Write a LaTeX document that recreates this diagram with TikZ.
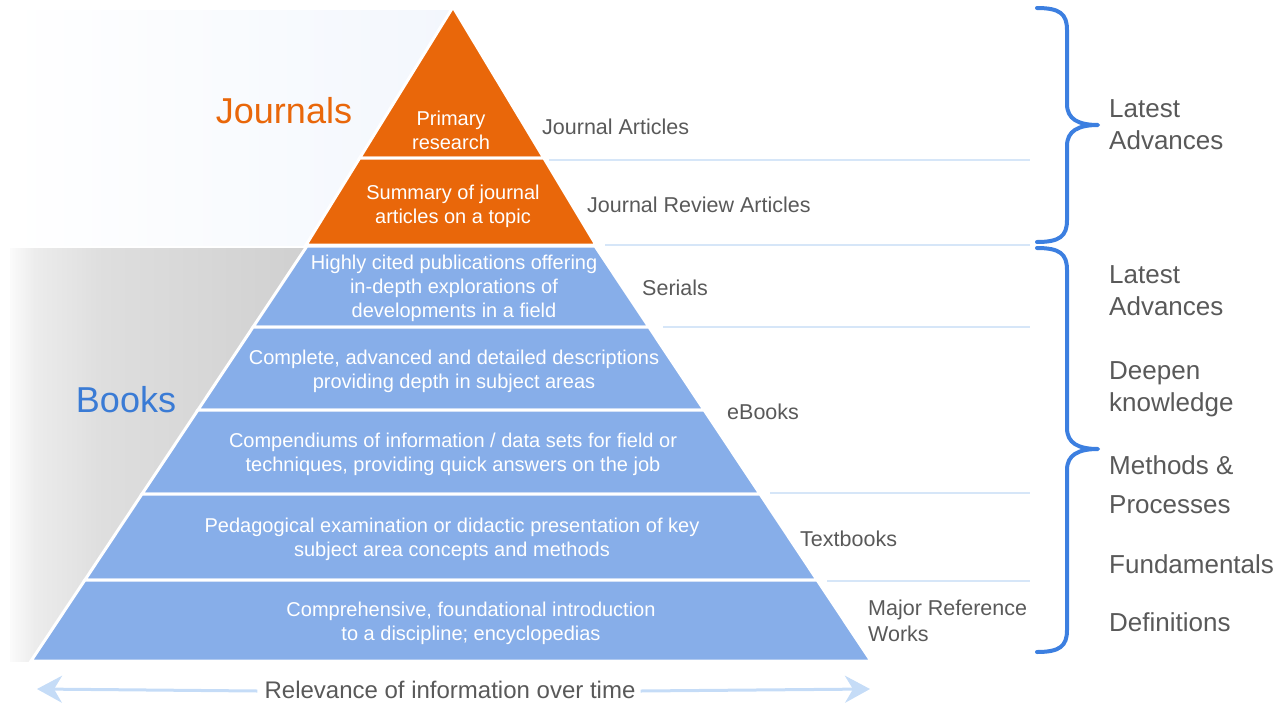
\documentclass[tikz,border=0pt]{standalone}
\usepackage{fontspec}
\setmainfont{Liberation Sans}
\usetikzlibrary{arrows.meta}
\definecolor{jorange}{RGB}{233,103,10}
\definecolor{bblue}{RGB}{135,174,233}
\definecolor{booksblue}{RGB}{58,123,213}
\definecolor{bracecol}{RGB}{60,127,224}
\definecolor{sepcol}{RGB}{214,230,248}
\definecolor{arrowcol}{RGB}{197,220,247}
\definecolor{txtgray}{RGB}{89,89,89}
\definecolor{grayA}{RGB}{236,236,236}
\definecolor{grayB}{RGB}{222,222,222}
\definecolor{grayC}{RGB}{207,207,207}
\definecolor{bluebg}{RGB}{243,247,253}
\pgfdeclarehorizontalshading{booksbg}{100bp}{color(0bp)=(white); color(25bp)=(white!97!gray); color(29bp)=(grayA); color(40bp)=(grayB); color(75bp)=(grayC); color(100bp)=(grayC)}
\tikzset{
  band/.style={draw=white, line width=3pt, line join=miter},
  orangeband/.style={band, fill=jorange},
  blueband/.style={band, fill=bblue},
  intext/.style={text=white, font=\fontsize{20}{24}\selectfont, align=center, inner sep=0pt},
  lbl/.style={text=txtgray, font=\fontsize{21.5}{26}\selectfont, anchor=west, inner sep=0pt, align=left},
  side/.style={text=txtgray, font=\fontsize{26}{32}\selectfont, anchor=west, inner sep=0pt, align=left},
  sepline/.style={draw=sepcol, line width=1.5pt},
  brace/.style={draw=bracecol, line width=4pt, line cap=round, line join=round},
  relarrow/.style={draw=arrowcol, line width=3pt, -{Stealth[length=25pt,width=27pt,inset=8pt]}}
}
\begin{document}
\begin{tikzpicture}[x=1pt,y=-1pt]
\useasboundingbox (0,0) rectangle (1283,702);
% backgrounds
\shade[left color=white, right color=bluebg] (8,10) rectangle (453,245);
\shade[shading=booksbg] (10,248) rectangle (320,661);
% orange part
\path[orangeband] (453,7) -- (543.8,158) -- (359.7,158) -- cycle;
\path[orangeband] (359.7,158) -- (543.8,158) -- (596,245) -- (306,245) -- cycle;
% blue part
\path[blueband] (307,246) -- (595,246) -- (648.9,327) -- (253.1,327) -- cycle;
\path[blueband] (253.1,327) -- (648.9,327) -- (704.1,410) -- (197.9,410) -- cycle;
\path[blueband] (197.9,410) -- (704.1,410) -- (760,494) -- (142,494) -- cycle;
\path[blueband] (142,494) -- (760,494) -- (817.1,580) -- (84.9,580) -- cycle;
\path[blueband] (84.9,580) -- (817.1,580) -- (871,661) -- (31,661) -- cycle;
% separator lines
\draw[sepline] (549,160) -- (1030,160);
\draw[sepline] (605,245) -- (1030,245);
\draw[sepline] (663,327) -- (1030,327);
\draw[sepline] (770,493) -- (1030,493);
\draw[sepline] (827,581) -- (1030,581);
% big labels
\node[text=jorange, font=\fontsize{36}{40}\selectfont, inner sep=0pt] (journals) at (284,111) {Journals};
\node[text=booksblue, font=\fontsize{36}{40}\selectfont, inner sep=0pt] (books) at (126,400) {Books};
% inside texts
\node[intext] (t1) at (451,130) {Primary\\research};
\node[intext] (t2) at (453,206) {Summary of journal\\articles on a topic};
\node[intext] (t3) at (454,288) {Highly cited publications offering\\in-depth explorations of\\developments in a field};
\node[intext] (t4) at (454,371) {Complete, advanced and detailed descriptions\\providing depth in subject areas};
\node[intext] (t5) at (453,454) {Compendiums of information / data sets for field or\\techniques, providing quick answers on the job};
\node[intext] (t6) at (452,539) {Pedagogical examination or didactic presentation of key\\subject area concepts and methods};
\node[intext] (t7) at (471,623) {Comprehensive, foundational introduction\\to a discipline; encyclopedias};
% right labels
\node[lbl] (l1) at (542,127) {Journal Articles};
\node[lbl] (l2) at (587,205) {Journal Review Articles};
\node[lbl] (l3) at (642,288) {Serials};
\node[lbl] (l4) at (727,412) {eBooks};
\node[lbl] (l5) at (800,539) {Textbooks};
\node[lbl] (l6) at (868,621) {Major Reference\\Works};
% braces
\draw[brace] (1037,8) .. controls (1060,8) and (1067,14) .. (1067,30) -- (1067,104)
  .. controls (1067,119) and (1078,125) .. (1098,125)
  .. controls (1078,125) and (1067,131) .. (1067,146) -- (1067,220)
  .. controls (1067,236) and (1060,242) .. (1037,242);
\draw[brace] (1037,248) .. controls (1060,248) and (1067,254) .. (1067,270) -- (1067,428)
  .. controls (1067,443) and (1078,449) .. (1098,449)
  .. controls (1078,449) and (1067,455) .. (1067,470) -- (1067,630)
  .. controls (1067,646) and (1060,652) .. (1037,652);
% side labels
\node[side] (s1) at (1109,125) {Latest\\Advances};
\node[side] (s2) at (1109,291) {Latest\\Advances};
\node[side] (s3) at (1109,389) {Deepen\\knowledge};
\node[side, font=\fontsize{26}{39}\selectfont] (s4) at (1109,485) {Methods \&\\Processes};
\node[side] (s5) at (1109,564) {Fundamentals};
\node[side] (s6) at (1109,622) {Definitions};
% bottom arrow
\node[text=txtgray, font=\fontsize{24}{28}\selectfont, inner sep=0pt] (relev) at (450,690) {Relevance of information over time};
\coordinate (arrL) at (37,689);
\coordinate (arrR) at (870,689);
\draw[relarrow] ([xshift=-7pt,yshift=-1pt]relev.west) -- (arrL);
\draw[relarrow] ([xshift=5pt,yshift=-1pt]relev.east) -- (arrR);
\end{tikzpicture}
\end{document}
